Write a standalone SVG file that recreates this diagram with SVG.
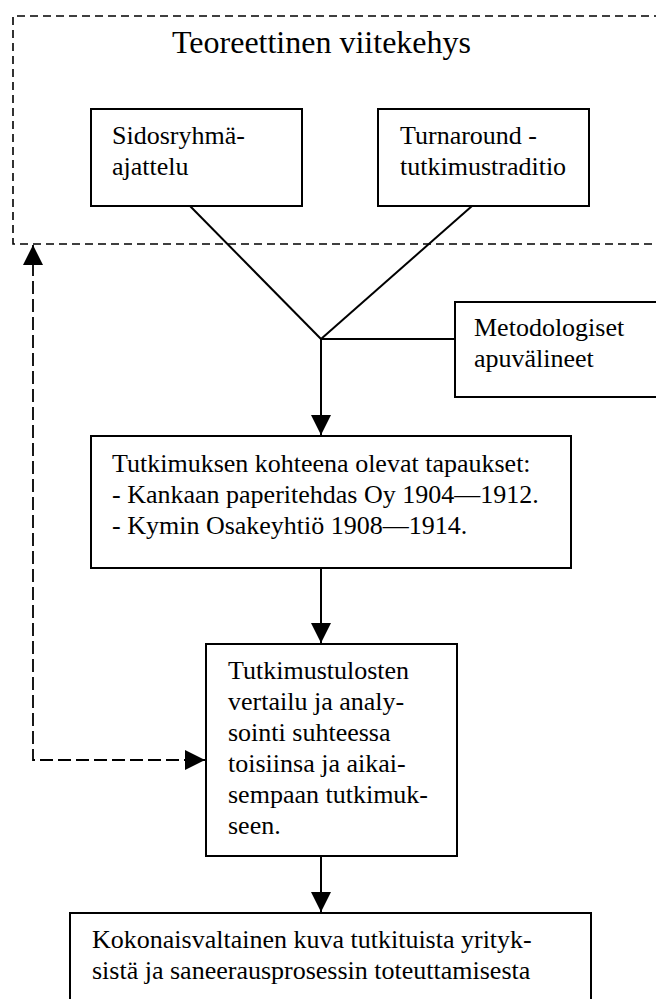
<svg xmlns="http://www.w3.org/2000/svg" width="656" height="999" viewBox="0 0 656 999">
<style>
  .box { fill: #fff; stroke: #000; stroke-width: 2; }
  .t { font-family: "Liberation Serif", "Times New Roman", serif; font-size: 26px; fill: #000; }
  .title { font-size: 32px; }
  .frame { fill: none; stroke: #000; stroke-width: 1.6; stroke-dasharray: 8 5; }
  .conn { fill: none; stroke: #000; stroke-width: 2; }
  .fb { fill: none; stroke: #000; stroke-width: 1.8; stroke-dasharray: 13 5; }
</style>
<defs>
  <marker id="ah" viewBox="0 0 20 20" refX="20" refY="10" markerWidth="20" markerHeight="20" markerUnits="userSpaceOnUse" orient="auto-start-reverse">
    <path d="M0,0 L20,10 L0,20 z" fill="#000"/>
  </marker>
</defs>
<rect width="656" height="999" fill="#fff"/>

<g id="frame">
  <path class="frame" d="M662,16 H13 V244 H662"/>
  <text class="t title" x="172" y="53">Teoreettinen viitekehys</text>
</g>

<g id="connectors">
  <line class="conn" x1="190" y1="206" x2="321" y2="339"/>
  <line class="conn" x1="472" y1="206" x2="321" y2="339"/>
  <line class="conn" x1="321" y1="339" x2="455" y2="339"/>
  <line class="conn" x1="321" y1="339" x2="321" y2="435" marker-end="url(#ah)"/>
  <line class="conn" x1="321" y1="568" x2="321" y2="643" marker-end="url(#ah)"/>
  <line class="conn" x1="321" y1="856" x2="321" y2="912" marker-end="url(#ah)"/>
  <path class="fb" d="M33,245 V760 H205" marker-start="url(#ah)" marker-end="url(#ah)"/>
</g>

<g id="sidosryhma">
  <rect class="box" x="91" y="109" width="211" height="97"/>
  <text class="t" x="112" y="144">Sidosryhmä-</text>
  <text class="t" x="112" y="175">ajattelu</text>
</g>

<g id="turnaround">
  <rect class="box" x="378" y="109" width="211" height="97"/>
  <text class="t" x="400" y="144">Turnaround -</text>
  <text class="t" x="400" y="175">tutkimustraditio</text>
</g>

<g id="metodologiset">
  <rect class="box" x="455" y="302" width="210" height="95"/>
  <text class="t" x="474" y="336">Metodologiset</text>
  <text class="t" x="474" y="367">apuvälineet</text>
</g>

<g id="tapaukset">
  <rect class="box" x="91" y="436" width="480" height="132"/>
  <text class="t" x="112" y="472">Tutkimuksen kohteena olevat tapaukset:</text>
  <text class="t" x="112" y="503">- Kankaan paperitehdas Oy 1904—1912.</text>
  <text class="t" x="112" y="534">- Kymin Osakeyhtiö 1908—1914.</text>
</g>

<g id="vertailu">
  <rect class="box" x="206" y="644" width="251" height="212"/>
  <text class="t" x="228" y="679">Tutkimustulosten</text>
  <text class="t" x="228" y="710">vertailu ja analy-</text>
  <text class="t" x="228" y="741">sointi suhteessa</text>
  <text class="t" x="228" y="772">toisiinsa ja aikai-</text>
  <text class="t" x="228" y="803">sempaan tutkimuk-</text>
  <text class="t" x="228" y="834">seen.</text>
</g>

<g id="kokonaiskuva">
  <rect class="box" x="70" y="913" width="521" height="100"/>
  <text class="t" x="92" y="948">Kokonaisvaltainen kuva tutkituista yrityk-</text>
  <text class="t" x="92" y="979">sistä ja saneerausprosessin toteuttamisesta</text>
</g>
</svg>
